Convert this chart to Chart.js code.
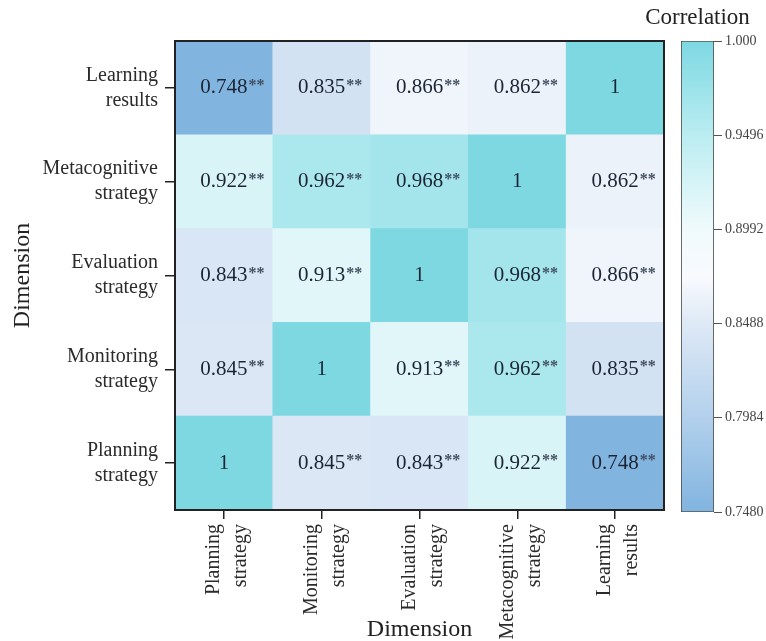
<!DOCTYPE html>
<html>
<head>
<meta charset="utf-8">
<script src="https://cdn.jsdelivr.net/npm/chart.js@4.4.1/dist/chart.umd.min.js"></script>
<style>
  body { margin: 0; background: #fff; }
  #wrap { position: relative; width: 766px; height: 641px; }
  #heatmap { position: absolute; left: 0; top: 0; }
  #colorbar { position: absolute; left: 600px; top: 0; }
</style>
</head>
<body>
<div id="wrap">
  <canvas id="heatmap" width="766" height="641"></canvas>
  <canvas id="colorbar" width="166" height="641"></canvas>
</div>
<script>
// dimensions, bottom row first (same order on the x axis)
var categories = ['Planning strategy', 'Monitoring strategy', 'Evaluation strategy', 'Metacognitive strategy', 'Learning results'];

// correlation rows, one per dimension
var planning      = [1, 0.845, 0.843, 0.922, 0.748];
var monitoring    = [0.845, 1, 0.913, 0.962, 0.835];
var evaluation    = [0.843, 0.913, 1, 0.968, 0.866];
var metacognitive = [0.922, 0.962, 0.968, 1, 0.862];
var learning      = [0.748, 0.835, 0.866, 0.862, 1];
var rows = [planning, monitoring, evaluation, metacognitive, learning];

// colour bar
var scaleMin = 0.748;
var scaleMax = 1.0;
var colorbarTicks = [0.748, 0.7984, 0.8488, 0.8992, 0.9496, 1.0];
var colorbarLabels = ['0.7480', '0.7984', '0.8488', '0.8992', '0.9496', '1.000'];

var serif = "'Liberation Serif', 'Times New Roman', serif";

var colorStops = [
  [0.748,  [129, 180, 223]],
  [0.7984, [178, 208, 236]],
  [0.8488, [222, 233, 246]],
  [0.874,  [248, 250, 254]],
  [0.8992, [240, 250, 252]],
  [0.9496, [186, 237, 241]],
  [1.0,    [125, 216, 226]]
];

function colorFor(v) {
  if (v <= colorStops[0][0]) return rgb(colorStops[0][1]);
  for (var i = 1; i < colorStops.length; i++) {
    if (v <= colorStops[i][0]) {
      var a = colorStops[i - 1], b = colorStops[i];
      var t = (v - a[0]) / (b[0] - a[0]);
      return rgb([0, 1, 2].map(function(k) { return Math.round(a[1][k] + (b[1][k] - a[1][k]) * t); }));
    }
  }
  return rgb(colorStops[colorStops.length - 1][1]);
}

function rgb(c) {
  return 'rgb(' + c[0] + ',' + c[1] + ',' + c[2] + ')';
}

var datasets = rows.map(function(row, r) {
  return {
    label: categories[r],
    data: row.map(function() { return 1; }),
    values: row,
    backgroundColor: row.map(colorFor),
    borderWidth: 0,
    barPercentage: 1,
    categoryPercentage: 1
  };
});

var cellLabels = {
  id: 'cellLabels',
  afterDatasetsDraw: function(chart) {
    var ctx = chart.ctx;
    ctx.save();
    ctx.textBaseline = 'middle';
    chart.data.datasets.forEach(function(ds, i) {
      var meta = chart.getDatasetMeta(i);
      meta.data.forEach(function(bar, j) {
        var v = ds.values[j];
        var cy = (bar.y + bar.base) / 2;
        var txt = v === 1 ? '1' : v.toFixed(3);
        ctx.font = '21px ' + serif;
        ctx.fillStyle = '#1d2535';
        ctx.textAlign = 'center';
        ctx.fillText(txt, bar.x, cy);
        if (v !== 1) {
          var w = ctx.measureText(txt).width;
          ctx.font = 'bold 16px ' + serif;
          ctx.fillStyle = '#445062';
          ctx.textAlign = 'left';
          ctx.fillText('**', bar.x + w / 2 + 1, cy - 2);
        }
      });
    });
    ctx.restore();
  }
};

var plotFrame = {
  id: 'plotFrame',
  afterDraw: function(chart) {
    var a = chart.chartArea;
    var ctx = chart.ctx;
    ctx.save();
    ctx.strokeStyle = '#222';
    ctx.lineWidth = 2;
    ctx.strokeRect(a.left, a.top, a.right - a.left, a.bottom - a.top);
    ctx.restore();
  }
};

new Chart(document.getElementById('heatmap'), {
  type: 'bar',
  data: { labels: categories, datasets: datasets },
  options: {
    responsive: false,
    animation: false,
    layout: { padding: { top: 41, right: 102, left: 0, bottom: 0 } },
    plugins: { legend: { display: false }, tooltip: { enabled: false } },
    scales: {
      x: {
        stacked: true,
        grid: { offset: false, drawOnChartArea: false, drawTicks: true, tickLength: 9, color: '#222', lineWidth: 1.5 },
        border: { display: false },
        ticks: {
          minRotation: 90, maxRotation: 90, padding: 5, labelOffset: -10, color: '#2b2b2b',
          font: { family: serif, size: 20, lineHeight: 1.35 },
          callback: function(value, index) { return categories[index].split(' '); }
        },
        title: { display: true, text: 'Dimension', color: '#222', font: { family: serif, size: 24 }, padding: { top: 0, bottom: -3 } },
        afterFit: function(scale) { scale.height = 131; }
      },
      y: {
        stacked: true,
        min: 0,
        max: 5,
        grid: { drawOnChartArea: false, drawTicks: true, tickLength: 10, color: '#222', lineWidth: 1.5 },
        border: { display: false },
        afterBuildTicks: function(scale) {
          scale.ticks = categories.map(function(c, i) { return { value: i + 0.5 }; });
        },
        ticks: {
          padding: 7, color: '#2b2b2b',
          font: { family: serif, size: 20, lineHeight: 1.25 },
          callback: function(value) { return categories[Math.floor(value)].split(' '); }
        },
        title: { display: true, text: 'Dimension', color: '#222', font: { family: serif, size: 24 }, padding: { top: 8, bottom: 0 } },
        afterFit: function(scale) { scale.width = 175; }
      }
    }
  },
  plugins: [cellLabels, plotFrame]
});

var colorbarTitle = {
  id: 'colorbarTitle',
  afterDraw: function(chart) {
    var a = chart.chartArea;
    var ctx = chart.ctx;
    ctx.save();
    ctx.font = '23px ' + serif;
    ctx.fillStyle = '#222';
    ctx.textAlign = 'center';
    ctx.textBaseline = 'middle';
    ctx.fillText('Correlation', (a.left + a.right) / 2, 18);
    ctx.restore();
  }
};

function gradientFill(context) {
  var a = context.chart.chartArea;
  if (!a) return null;
  var g = context.chart.ctx.createLinearGradient(0, a.bottom, 0, a.top);
  colorStops.forEach(function(s) {
    g.addColorStop((s[0] - scaleMin) / (scaleMax - scaleMin), rgb(s[1]));
  });
  return g;
}

new Chart(document.getElementById('colorbar'), {
  type: 'bar',
  data: {
    labels: ['Correlation'],
    datasets: [{
      data: [[scaleMin, scaleMax]],
      backgroundColor: gradientFill,
      borderColor: '#555',
      borderWidth: 1.2,
      borderSkipped: false,
      barPercentage: 1,
      categoryPercentage: 1
    }]
  },
  options: {
    responsive: false,
    animation: false,
    layout: { padding: { top: 41, left: 81, right: 0, bottom: 129 } },
    plugins: { legend: { display: false }, tooltip: { enabled: false } },
    scales: {
      x: { display: false },
      y: {
        position: 'right',
        min: scaleMin,
        max: scaleMax,
        grid: { drawOnChartArea: false, drawTicks: true, tickLength: 8, color: '#555' },
        border: { display: false },
        afterBuildTicks: function(scale) {
          scale.ticks = colorbarTicks.map(function(v) { return { value: v }; });
        },
        ticks: {
          padding: 3, color: '#444',
          font: { family: serif, size: 14 },
          callback: function(value, index) { return colorbarLabels[index]; }
        },
        afterFit: function(scale) { scale.width = 52; }
      }
    }
  },
  plugins: [colorbarTitle]
});
</script>
</body>
</html>
